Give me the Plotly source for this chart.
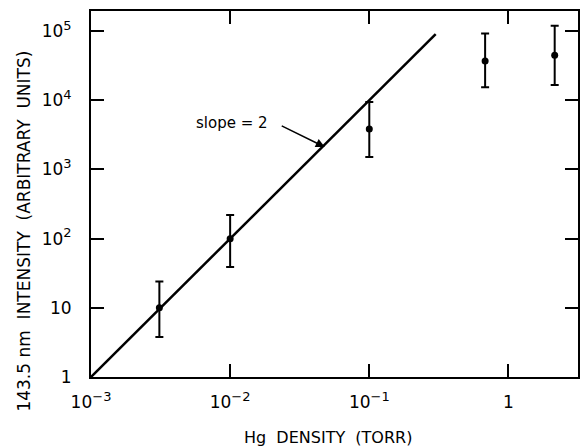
import plotly.graph_objects as go

# Data
density = [3.1e-3, 1e-2, 1e-1, 0.68, 2.15]
intensity = [10, 100, 3840, 37000, 44600]
err_plus = [14, 119, 5560, 55500, 74400]
err_minus = [6.2, 61, 2330, 21600, 28000]

line_x = [1e-3, 0.3]
line_y = [1, 9e4]

SUP = "<sup><span style='font-size:13px'>{}</span></sup>"
x_tickvals = [1e-3, 1e-2, 1e-1, 1]
x_ticktext = ["10" + SUP.format("−3"), "10" + SUP.format("−2"), "10" + SUP.format("−1"), "1"]
y_tickvals = [1, 10, 100, 1e3, 1e4, 1e5]
y_ticktext = ["1", "10"] + ["10" + SUP.format(k) for k in ["2", "3", "4", "5"]]

FONT = "DejaVu Sans, Verdana, sans-serif"

fig = go.Figure()
fig.add_trace(go.Scatter(x=line_x, y=line_y, mode="lines",
                         line=dict(color="black", width=2.5), showlegend=False))
fig.add_trace(go.Scatter(
    x=density, y=intensity, mode="markers",
    marker=dict(color="black", size=7),
    error_y=dict(type="data", array=err_plus, arrayminus=err_minus,
                 color="black", thickness=2, width=4),
    showlegend=False))

# annotations
fig.add_annotation(x=-1.988, y=3.67, xref="x", yref="y", text="slope = 2",
                   showarrow=False, font=dict(family=FONT, size=15, color="black"))
fig.add_annotation(x=-1.32, y=3.324, xref="x", yref="y", text="",
                   ax=-1.64, ay=3.64, axref="x", ayref="y",
                   showarrow=True, arrowhead=2, arrowsize=1.2, arrowwidth=1.5,
                   arrowcolor="black")
fig.add_annotation(x=-0.1376, y=0.40, xref="paper", yref="paper",
                   text="143.5 nm  INTENSITY  (ARBITRARY  UNITS)", textangle=-90,
                   showarrow=False, xanchor="center", yanchor="middle",
                   font=dict(family=FONT, size=17, color="black"))
fig.add_annotation(x=0.4867, y=-0.164, xref="paper", yref="paper",
                   text="Hg  DENSITY  (TORR)",
                   showarrow=False, xanchor="center", yanchor="middle",
                   font=dict(family=FONT, size=16, color="black"))

fig.update_xaxes(type="log", range=[-3, 0.5], tickvals=x_tickvals, ticktext=x_ticktext,
                 ticks="inside", ticklen=13, tickwidth=2, tickcolor="black",
                 showline=True, linecolor="black", linewidth=2, mirror="ticks",
                 showgrid=False, zeroline=False, automargin=False,
                 ticklabelstandoff=9,
                 tickfont=dict(family=FONT, size=17, color="black"))
fig.update_yaxes(type="log", range=[0, 5.29], tickvals=y_tickvals, ticktext=y_ticktext,
                 ticks="inside", ticklen=13, tickwidth=2, tickcolor="black",
                 showline=True, linecolor="black", linewidth=2, mirror="ticks",
                 showgrid=False, zeroline=False, automargin=False,
                 ticklabelstandoff=14,
                 tickfont=dict(family=FONT, size=17, color="black"))

fig.update_layout(width=580, height=447, margin=dict(l=91, r=2, t=11, b=70),
                  plot_bgcolor="white", paper_bgcolor="white")
fig.write_html("out.html", config={"displayModeBar": False},
               post_script="document.body.style.margin='0';")
